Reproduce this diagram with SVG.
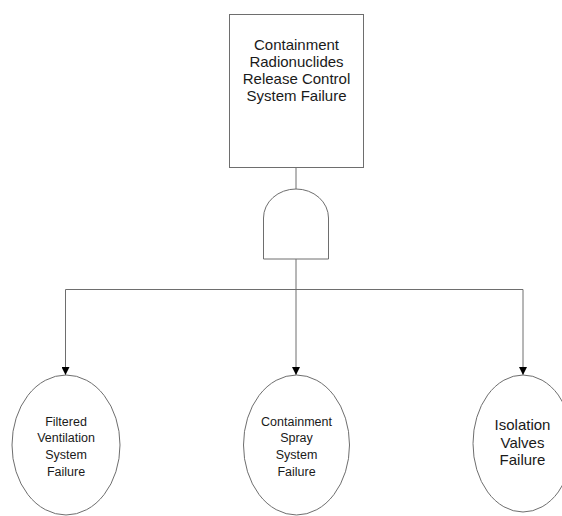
<svg xmlns="http://www.w3.org/2000/svg" width="562" height="516" viewBox="0 0 562 516">
  <style>
    .shape { fill: #ffffff; stroke: #6e6e6e; stroke-width: 1; }
    .conn { fill: none; stroke: #6e6e6e; stroke-width: 1; }
    .t { font-family: "Liberation Sans", Arial, sans-serif; fill: #1a1a1a; text-anchor: middle; }
    .big { font-size: 15px; }
    .small { font-size: 12.5px; }
  </style>
  <defs>
    <marker id="arrow" markerWidth="9" markerHeight="8" refX="8" refY="4" orient="auto" markerUnits="userSpaceOnUse">
      <path d="M0,0 L8,4 L0,8 Z" fill="#000000"/>
    </marker>
  </defs>
  <rect width="562" height="516" fill="#ffffff"/>

  <g id="connectors">
    <line class="conn" x1="296" y1="168" x2="296" y2="189.5"/>
    <line class="conn" x1="296" y1="259" x2="296" y2="289.5"/>
    <line class="conn" x1="65.5" y1="289.5" x2="523" y2="289.5"/>
    <line class="conn" x1="65.5" y1="289.5" x2="65.5" y2="375" marker-end="url(#arrow)"/>
    <line class="conn" x1="296" y1="289.5" x2="296" y2="375" marker-end="url(#arrow)"/>
    <line class="conn" x1="523" y1="289.5" x2="523" y2="375" marker-end="url(#arrow)"/>
  </g>

  <g id="top-event">
    <rect class="shape" x="229.5" y="14.5" width="134" height="153"/>
    <text class="t big" x="296.5" y="49.5">Containment</text>
    <text class="t big" x="296.5" y="66.5">Radionuclides</text>
    <text class="t big" x="296.5" y="83.5">Release Control</text>
    <text class="t big" x="296.5" y="100.5">System Failure</text>
  </g>

  <g id="and-gate">
    <path class="shape" d="M263.5,259 L263.5,218 A32.5,29 0 0 1 328.5,218 L328.5,259 Z"/>
  </g>

  <g id="filtered-ventilation">
    <ellipse class="shape" cx="66" cy="445" rx="54" ry="70"/>
    <text class="t small" x="66" y="425.7">Filtered</text>
    <text class="t small" x="66" y="442.3">Ventilation</text>
    <text class="t small" x="66" y="459">System</text>
    <text class="t small" x="66" y="475.7">Failure</text>
  </g>

  <g id="containment-spray">
    <ellipse class="shape" cx="296.5" cy="445" rx="53" ry="70"/>
    <text class="t small" x="296.5" y="425.7">Containment</text>
    <text class="t small" x="296.5" y="442.3">Spray</text>
    <text class="t small" x="296.5" y="459">System</text>
    <text class="t small" x="296.5" y="475.7">Failure</text>
  </g>

  <g id="isolation-valves">
    <ellipse class="shape" cx="523" cy="443.5" rx="50" ry="68.5"/>
    <text class="t big" x="522.5" y="430">Isolation</text>
    <text class="t big" x="522.5" y="447.5">Valves</text>
    <text class="t big" x="522.5" y="465">Failure</text>
  </g>
</svg>
